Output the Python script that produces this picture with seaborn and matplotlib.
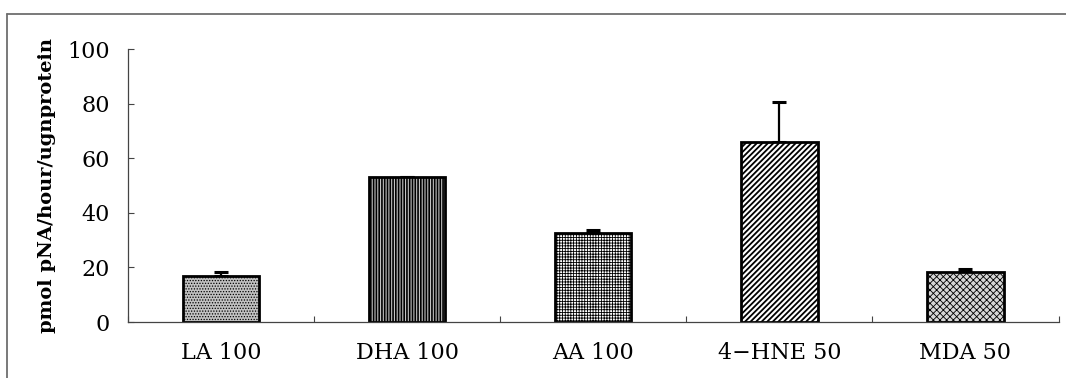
import matplotlib
matplotlib.use("Agg")
import matplotlib.pyplot as plt
from matplotlib.lines import Line2D
import seaborn as sns
import numpy as np

# Caspase-like activity after treatment with lipids / aldehydes (μM)
categories = ["LA 100", "DHA 100", "AA 100", "4\u2212HNE 50", "MDA 50"]
means = [17.0, 53.0, 32.7, 65.9, 18.3]
sem_upper = [1.3, 0.0, 0.9, 14.9, 1.2]
y_ticks = [0, 20, 40, 60, 80, 100]
y_label = "pmol pNA/hour/ugnprotein"

# fill patterns per bar: (facecolor, hatch, hatch linewidth)
bar_styles = [
    ("#c2c2c2", "......", 0.6),
    ("#c4c4c4", "||||||", 1.2),
    ("white", "++++++", 0.6),
    ("white", "//////", 1.3),
    ("#d6d6d6", "xxxxx", 0.6),
]

sns.set_theme(style="white")
plt.rcParams["font.family"] = ["DejaVu Serif"]

fig = plt.figure(figsize=(10.66, 3.78), dpi=100)
ax = fig.add_axes([0.120, 0.148, 0.873, 0.722])

sns.barplot(x=categories, y=means, color="white", edgecolor="black",
            linewidth=2.0, width=0.41, saturation=1, ax=ax)

for patch, (fc, hatch, hlw) in zip(ax.patches, bar_styles):
    patch.set_facecolor(fc)
    patch.set_hatch(hatch)
    try:
        patch.set_hatch_linewidth(hlw)
    except AttributeError:
        pass
    patch.set_zorder(2)

x = np.arange(len(categories))
ax.errorbar(x, means, yerr=[np.zeros(len(means)), sem_upper], fmt="none",
            ecolor="black", elinewidth=1.6, capsize=5, capthick=2.2, zorder=1)

ax.set_xlim(-0.5, len(categories) - 0.5)
ax.set_ylim(0, 100)
ax.set_yticks(y_ticks)
ax.set_yticklabels([str(t) for t in y_ticks])

# category boundaries marked with small inward ticks
ax.set_xticks(np.arange(len(categories) + 1) - 0.5, minor=True)
ax.tick_params(axis="x", which="major", length=0, pad=14, labelsize=16, colors="black")
ax.tick_params(axis="x", which="minor", direction="in", length=4, width=0.8,
               color="#444444", bottom=True)
ax.tick_params(axis="y", which="major", direction="in", length=4, width=0.8,
               color="#444444", left=True, pad=13, labelsize=16, labelcolor="black")

for side in ["top", "right"]:
    ax.spines[side].set_visible(False)
for side in ["left", "bottom"]:
    ax.spines[side].set_color("#444444")
    ax.spines[side].set_linewidth(0.9)

ax.set_xlabel("")
ax.set_ylabel(y_label, fontsize=14, fontweight="semibold", color="black")
ax.yaxis.set_label_coords(-0.077, 0.50)

# frame lines around the figure panel
fig.add_artist(Line2D([7 / 1066, 1.0], [1 - 14 / 378, 1 - 14 / 378],
                      transform=fig.transFigure, color="#6e6e6e", linewidth=1.3))
fig.add_artist(Line2D([7 / 1066, 7 / 1066], [0.0, 1 - 14 / 378],
                      transform=fig.transFigure, color="#6e6e6e", linewidth=1.3))

fig.savefig("out.png", dpi=100, facecolor="white")
